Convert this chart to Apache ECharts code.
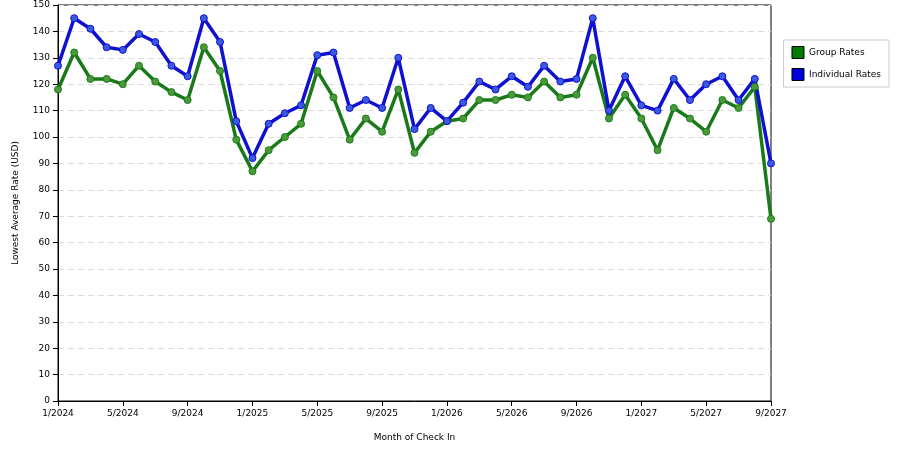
<!DOCTYPE html>
<html><head><meta charset="utf-8">
<script src="https://cdn.jsdelivr.net/npm/echarts@6/dist/echarts.min.js"></script>
<style>body{margin:0}#c{width:900px;height:450px}</style></head>
<body><div id="c"></div>
<script>
const months = [];
for (let y = 2024; y <= 2027; y++) for (let m = 1; m <= 12; m++) { if (y === 2027 && m > 9) break; months.push(m + '/' + y); }
const individualRates = [127,145,141,134,133,139,136,127,123,145,136,106,92,105,109,112,131,132,111,114,111,130,103,111,106,113,121,118,123,119,127,121,122,145,110,123,112,110,122,114,120,123,114,122,90];
const groupRates = [118,132,122,122,120,127,121,117,114,134,125,99,87,95,100,105,125,115,99,107,102,118,94,102,106,107,114,114,116,115,121,115,116,130,107,116,107,95,111,107,102,114,111,119,69];
const font = 'DejaVu Sans';
const chart = echarts.init(document.getElementById('c'));
function s(name, data, color, dot) {
  return { name, type: 'line', data, symbol: 'circle', symbolSize: 7,
    lineStyle: { color, width: 3.5 }, itemStyle: { color: dot, borderColor: color, borderWidth: 1 },
    emphasis: { disabled: true }, animation: false };
}
chart.setOption({
  animation: false,
  grid: { left: 58, right: 129, top: 5, bottom: 49, show: true, borderColor: '#000', borderWidth: 1 },
  legend: { orient: 'vertical', right: 11, top: 40, itemWidth: 12, itemHeight: 12, itemGap: 9,
    padding: [6, 8], borderColor: '#ccc', borderWidth: 1, icon: 'rect',
    textStyle: { fontFamily: font, fontSize: 9, color: '#000' },
    data: [
      { name: 'Group Rates', itemStyle: { color: '#007a00', borderWidth: 1, borderColor: '#000' } },
      { name: 'Individual Rates', itemStyle: { color: '#0000dd', borderWidth: 1, borderColor: '#000' } }] },
  xAxis: { type: 'category', data: months, boundaryGap: false, name: 'Month of Check In',
    nameLocation: 'middle', nameGap: 32, nameTextStyle: { fontFamily: font, fontSize: 9, color: '#000' },
    axisLine: { lineStyle: { color: '#000' } },
    axisTick: { interval: 3, lineStyle: { color: '#000' } },
    axisLabel: { interval: 3, fontFamily: font, fontSize: 9, color: '#000' },
    splitLine: { show: false } },
  yAxis: { type: 'value', min: 0, max: 150, interval: 10, name: 'Lowest Average Rate (USD)',
    nameLocation: 'middle', nameGap: 38, nameTextStyle: { fontFamily: font, fontSize: 9, color: '#000' },
    axisLine: { show: true, lineStyle: { color: '#000' } },
    axisTick: { show: true, lineStyle: { color: '#000' } },
    axisLabel: { fontFamily: font, fontSize: 9, color: '#000' },
    splitLine: { lineStyle: { color: '#ddd', type: [6, 4] } } },
  series: [
    s('Group Rates', groupRates, '#1a7a1a', '#4a9a3a'),
    s('Individual Rates', individualRates, '#1010d0', '#3a5ae0')
  ]
});
</script></body></html>
